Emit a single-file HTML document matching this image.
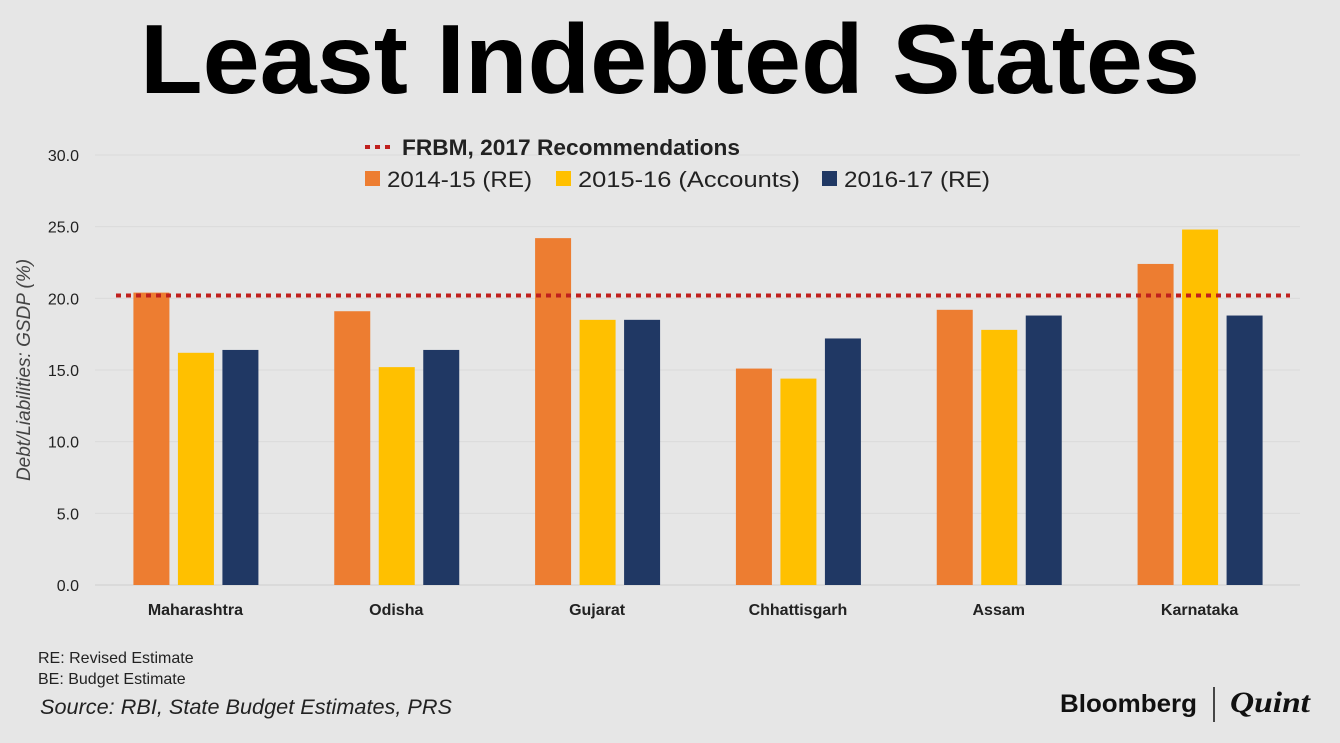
<!DOCTYPE html>
<html><head><meta charset="utf-8"><style>
body{margin:0;width:1340px;height:743px;background:#e6e6e6;overflow:hidden;font-family:"Liberation Sans",sans-serif;}
svg{position:absolute;left:0;top:0}
</style></head><body>
<svg width="1340" height="743">
<text x="670" y="93" text-anchor="middle" font-size="98" font-weight="bold" fill="#000" textLength="1060" lengthAdjust="spacingAndGlyphs">Least Indebted States</text>
<g id="grid"></g><g id="bars"></g><g id="labels"></g>
<text transform="translate(30,370) rotate(-90)" text-anchor="middle" font-size="19" font-style="italic" fill="#444">Debt/Liabilities: GSDP (%)</text>
<g>
<line x1="365" y1="147" x2="392" y2="147" stroke="#c0201e" stroke-width="4" stroke-dasharray="5,5"/>
<text x="402" y="155" font-size="22" font-weight="bold" fill="#222" textLength="338" lengthAdjust="spacingAndGlyphs">FRBM, 2017 Recommendations</text>
<rect x="365" y="171" width="15" height="15" fill="#ed7d31"/>
<text x="387" y="187" font-size="22" fill="#222" textLength="145" lengthAdjust="spacingAndGlyphs">2014-15 (RE)</text>
<rect x="556" y="171" width="15" height="15" fill="#ffc000"/>
<text x="578" y="187" font-size="22" fill="#222" textLength="222" lengthAdjust="spacingAndGlyphs">2015-16 (Accounts)</text>
<rect x="822" y="171" width="15" height="15" fill="#203864"/>
<text x="844" y="187" font-size="22" fill="#222" textLength="146" lengthAdjust="spacingAndGlyphs">2016-17 (RE)</text>
</g>
<g id="frbm"></g>
<text x="38" y="663" font-size="16" fill="#222">RE: Revised Estimate</text>
<text x="38" y="684" font-size="16" fill="#222">BE: Budget Estimate</text>
<text x="40" y="714" font-size="21" font-style="italic" fill="#222" textLength="412" lengthAdjust="spacingAndGlyphs">Source: RBI, State Budget Estimates, PRS</text>
<g>
<text x="1060" y="712" font-size="25" font-weight="bold" fill="#111" textLength="137" lengthAdjust="spacingAndGlyphs">Bloomberg</text>
<line x1="1214" y1="687" x2="1214" y2="722" stroke="#111" stroke-width="1.5"/>
<text x="1230" y="712" font-size="30" font-weight="bold" font-style="italic" font-family="Liberation Serif,serif" fill="#111" textLength="80" lengthAdjust="spacingAndGlyphs">Quint</text>
</g>
</svg>
<script>
const categories=["Maharashtra","Odisha","Gujarat","Chhattisgarh","Assam","Karnataka"];
const s2014=[20.4,19.1,24.2,15.1,19.2,22.4];
const s2015=[16.2,15.2,18.5,14.4,17.8,24.8];
const s2016=[16.4,16.4,18.5,17.2,18.8,18.8];
const frbm=[20.2];
const ticks=[0,5,10,15,20,25,30];
const NS="http://www.w3.org/2000/svg";
const x0=95,x1=1300,y0=585,yTop=155,ymax=30;
const y=v=>y0-(v/ymax)*(y0-yTop);
const bw=(x1-x0)/categories.length;
function mk(t,a,p){const e=document.createElementNS(NS,t);for(const k in a)e.setAttribute(k,a[k]);p.appendChild(e);return e;}
const grid=document.getElementById('grid'),bars=document.getElementById('bars'),labels=document.getElementById('labels');
ticks.forEach(t=>{
 const l=mk('line',{x1:x0,x2:x1,y1:y(t),y2:y(t),stroke:t===0?'#cfcfcf':'#dadada','stroke-width':1},grid);
 
 
 const tx=mk('text',{x:79,y:y(t)+6,'text-anchor':'end','font-size':16,fill:'#222'},labels);
 tx.textContent=t.toFixed(1);
 
 
});
const series=[[s2014,'#ed7d31'],[s2015,'#ffc000'],[s2016,'#203864']];
categories.forEach((c,i)=>{
 const cx=x0+bw*(i+0.5);
 series.forEach((s,j)=>{
  const bx=cx-62+j*44.5;
  const r=mk('rect',{x:bx,y:y(s[0][i]),width:36,height:y0-y(s[0][i]),fill:s[1]},bars);
  
  
 });
 const t=mk('text',{x:cx,y:615,'text-anchor':'middle','font-size':16,'font-weight':'bold',fill:'#222'},labels);
 t.textContent=c;
 
 
});
const fl=mk('line',{x1:116,x2:1290,y1:y(frbm[0]),y2:y(frbm[0]),stroke:'#c0201e','stroke-width':4,'stroke-dasharray':'5,5'},document.getElementById('frbm'));


</script>
</body></html>
